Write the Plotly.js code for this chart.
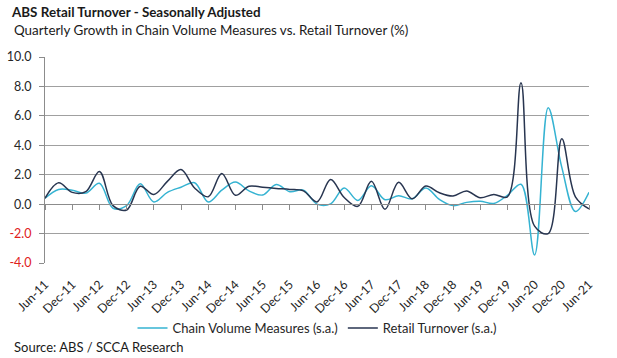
<!DOCTYPE html>
<html>
<head>
<meta charset="utf-8">
<script src="https://cdn.plot.ly/plotly-3.0.1.min.js"></script>
<style>html,body{margin:0;padding:0;background:#fff}#chart{width:617px;height:358px}</style>
</head>
<body>
<div id="chart"></div>
<script>
const quarters = ["Jun-11","Sep-11","Dec-11","Mar-12","Jun-12","Sep-12","Dec-12","Mar-13","Jun-13","Sep-13",
  "Dec-13","Mar-14","Jun-14","Sep-14","Dec-14","Mar-15","Jun-15","Sep-15","Dec-15","Mar-16",
  "Jun-16","Sep-16","Dec-16","Mar-17","Jun-17","Sep-17","Dec-17","Mar-18","Jun-18","Sep-18",
  "Dec-18","Mar-19","Jun-19","Sep-19","Dec-19","Mar-20","Jun-20","Sep-20","Dec-20","Mar-21","Jun-21"];
const chainVolume = [0.4,1.0,0.95,0.75,1.42,-0.28,-0.1,1.38,0.15,0.8,
  1.15,1.45,0.15,0.95,1.5,0.9,0.62,1.34,0.85,0.95,
  0.0,0.02,1.1,0.25,1.25,0.3,0.57,0.36,1.1,0.32,
  -0.1,0.12,0.2,0.05,0.6,1.35,-3.45,6.55,2.5,-0.5,0.8];
const retailTurnover = [0.4,1.45,0.8,0.85,2.22,-0.1,-0.4,1.22,0.65,1.55,
  2.35,1.1,0.5,2.08,0.6,1.22,1.15,1.07,1.0,0.9,
  0.15,1.68,0.45,-0.15,1.55,-0.35,1.48,0.36,1.23,0.77,
  0.55,0.9,0.43,0.66,0.5,8.25,-1.5,-2.0,4.45,0.5,-0.32];
const yTickVals = [-4,-2,0,2,4,6,8,10];
const yTickText = ['<span style="color:#e0201b">-4.0</span>','<span style="color:#e0201b">-2.0</span>','0.0','2.0','4.0','6.0','8.0','10.0'];
const seriesNames = ["Chain Volume Measures (s.a.)","Retail Turnover (s.a.)"];

const FONT = 'Lato, "Open Sans", sans-serif';
const traces = [
  {x: quarters, y: chainVolume, name: seriesNames[0], type: 'scatter', mode: 'lines',
   line: {color: '#35b3d2', width: 1.5, shape: 'spline', smoothing: 1}, xaxis: 'x', yaxis: 'y'},
  {x: quarters, y: retailTurnover, name: seriesNames[1], type: 'scatter', mode: 'lines',
   line: {color: '#283550', width: 1.5, shape: 'spline', smoothing: 1}, xaxis: 'x2', yaxis: 'y'}
];
const layout = {
  width: 617, height: 358,
  margin: {l: 45, r: 28, t: 57, b: 95},
  paper_bgcolor: '#fff', plot_bgcolor: '#fff',
  font: {family: FONT, size: 12, color: '#262626'},
  title: {text: '<b>ABS Retail Turnover - Seasonally Adjusted</b>', x: 12/617, xanchor: 'left', xref: 'container',
          y: 1 - 12/358, yref: 'container', yanchor: 'middle', font: {family: FONT, size: 13.4, color: '#1a1a1a'}},
  annotations: [
    {text: 'Quarterly Growth in Chain Volume Measures vs. Retail Turnover (%)', xref: 'paper', yref: 'paper',
     x: -33/544, y: 1 + 27/206, xanchor: 'left', yanchor: 'middle', showarrow: false,
     font: {family: FONT, size: 13.4, color: '#1a1a1a'}},
    {text: 'Source: ABS / SCCA Research', xref: 'paper', yref: 'paper',
     x: -33/544, y: -(347-263)/206, xanchor: 'left', yanchor: 'middle', showarrow: false,
     font: {family: FONT, size: 13, color: '#1a1a1a'}}
  ],
  xaxis: {type: 'category', range: [0, 40], dtick: 2, tick0: 0, tickangle: -45,
          showgrid: false, showline: false, ticks: '', zeroline: false, ticklabelstandoff: 11,
          tickfont: {family: FONT, size: 12.3, color: '#262626'}},
  xaxis2: {type: 'category', range: [0, 40], dtick: 2, tick0: 0, overlaying: 'x', anchor: 'free',
           position: 4/14, showticklabels: false, showgrid: false, showline: true,
           linecolor: '#8c8c8c', linewidth: 1, ticks: 'outside', ticklen: 5, tickcolor: '#8c8c8c', zeroline: false},
  yaxis: {range: [-4, 10], tickvals: yTickVals, ticktext: yTickText, showgrid: true,
          gridcolor: '#a0a0a0', gridwidth: 1, zeroline: false, showline: true, linecolor: '#8c8c8c',
          ticks: 'outside', ticklen: 5, tickcolor: '#8c8c8c', ticklabelstandoff: 5,
          tickfont: {family: FONT, size: 12.5, color: '#262626'}},
  showlegend: true,
  legend: {orientation: 'h', x: 0.5, xanchor: 'center', y: -(328-263)/206, yanchor: 'middle',
           font: {family: FONT, size: 13, color: '#262626'}, bgcolor: 'rgba(0,0,0,0)'}
};
Plotly.newPlot('chart', traces, layout, {displayModeBar: false, staticPlot: true});
</script>
</body>
</html>
